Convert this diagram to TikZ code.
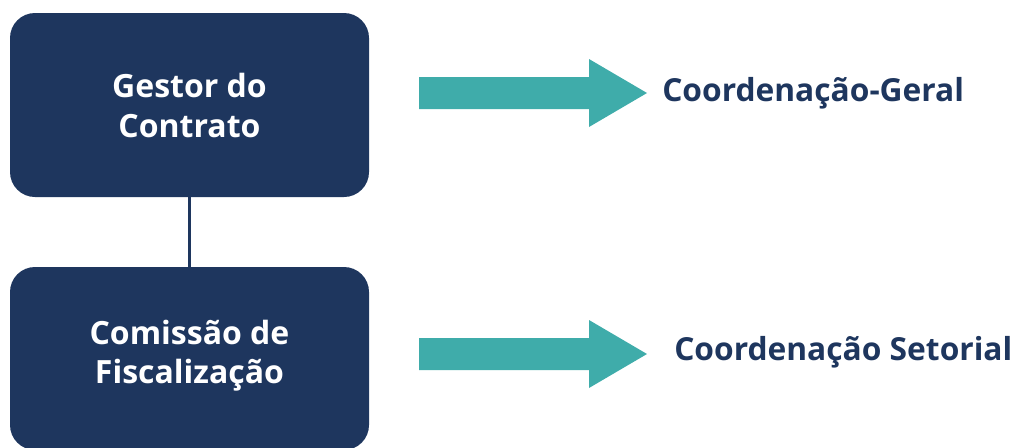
\documentclass[tikz,border=0pt]{standalone}
\usepackage{fontspec}
\setmainfont{Open Sans}
\definecolor{navy}{HTML}{1E365E}
\definecolor{teal}{HTML}{3FACAA}
\begin{document}
\begin{tikzpicture}[x=0.75pt,y=-0.75pt,
  box/.style={fill=navy,rounded corners=18.75pt,minimum width=269.25pt,inner sep=0pt,
    text=white,align=center,font=\bfseries\fontsize{24}{30}\selectfont},
  lbl/.style={anchor=base west,inner sep=0pt,text=navy,font=\bfseries\fontsize{23.8}{28}\selectfont},
  bigarrow/.style={fill=teal}]
\useasboundingbox (0,0) rectangle (1016,447);
\node[box,minimum height=138pt] (g) at (189.5,105) {Gestor do\\Contrato};
\node[box,minimum height=137.25pt] (c) at (189.5,358.5) {};
\node[text=white,align=center,font=\bfseries\fontsize{24}{29}\selectfont] (ct) at (189.5,356) {Comissão de\\Fiscalização};
\draw[navy,line width=1.6pt] (g.south) -- (c.north);
% arrows
\coordinate (a1) at (419,93);
\fill[bigarrow] (419,77) -- (589,77) -- (589,59) -- (647,93) -- (589,127) -- (589,109) -- (419,109) -- cycle;
\coordinate (a2) at (419,354);
\fill[bigarrow] (419,338) -- (589,338) -- (589,320) -- (647,354) -- (589,388) -- (589,370) -- (419,370) -- cycle;
\node[lbl] (l1) at (662,101) {Coordenação-Geral};
\node[lbl] (l2) at (674,360) {Coordenação Setorial};
\end{tikzpicture}
\end{document}
